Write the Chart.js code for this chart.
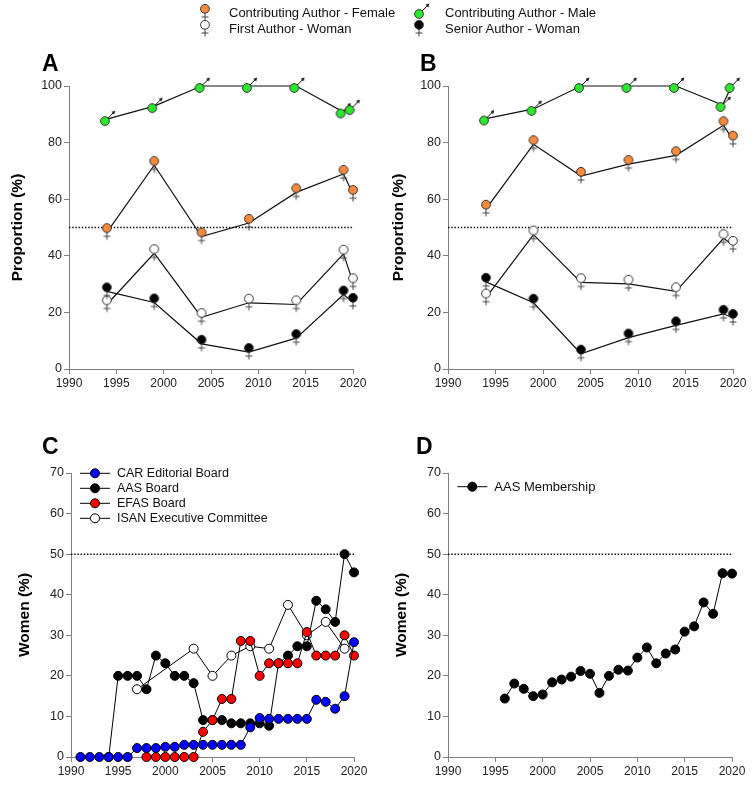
<!DOCTYPE html>
<html>
<head>
<meta charset="utf-8">
<script src="https://cdn.jsdelivr.net/npm/chart.js@4.4.1/dist/chart.umd.min.js"></script>
<style>
  body { margin: 0; background: #fff; }
  #wrap { position: relative; width: 755px; height: 788px; overflow: hidden;
          font-family: "Liberation Sans", Arial, sans-serif; color: #111; }
  #wrap canvas { position: absolute; }
  .key { position: absolute; font-size: 13px; line-height: 15px; white-space: nowrap; }
  .tag { position: absolute; font-size: 23px; line-height: 23px; font-weight: bold; color: #000; }
</style>
</head>
<body>
<div id="wrap">
  <canvas id="chartA" width="378" height="395" style="left:0;top:0"></canvas>
  <canvas id="chartB" width="377" height="395" style="left:378px;top:0"></canvas>
  <canvas id="chartC" width="378" height="388" style="left:0;top:400px"></canvas>
  <canvas id="chartD" width="377" height="388" style="left:378px;top:400px"></canvas>

  <div class="tag" style="left:42px;top:52px">A</div>
  <div class="tag" style="left:420px;top:52px">B</div>
  <div class="tag" style="left:42px;top:435px">C</div>
  <div class="tag" style="left:416px;top:435px">D</div>

  <div class="key" style="left:229px;top:5px">Contributing Author - Female</div>
  <div class="key" style="left:445px;top:5px">Contributing Author - Male</div>
  <div class="key" style="left:229px;top:21px">First Author - Woman</div>
  <div class="key" style="left:445px;top:21px">Senior Author - Woman</div>
</div>

<script>
// ---- data ----
// A and B: survey years (male marks sit a little left of the female ones)
const yearsFemale = [1994, 1999, 2004, 2009, 2014, 2019, 2020];
const yearsMale = [1994, 1999, 2004, 2009, 2014, 2018.9, 2019.85];

const aContribFemale = [48.3, 72.0, 46.8, 51.6, 62.4, 68.9, 61.8];
const aContribMale = [88.3, 92.9, 100, 100, 100, 91.0, 92.2];
const aFirstWoman = [22.8, 40.9, 18.3, 23.4, 22.8, 40.7, 30.6];
const aSeniorWoman = [27.4, 23.5, 8.9, 6.0, 10.9, 26.3, 23.7];

const bContribFemale = [56.6, 79.4, 68.2, 72.4, 75.5, 86.1, 81.0];
const bContribMale = [88.5, 91.9, 100, 100, 100, 93.3, 100];
const bFirstWoman = [25.2, 47.5, 30.6, 30.1, 27.4, 46.2, 43.8];
const bSeniorWoman = [30.8, 23.4, 5.4, 11.1, 15.4, 19.5, 18.0];

// C: boards
const carYears = [1991, 1992, 1993, 1994, 1995, 1996, 1997, 1998, 1999, 2000,
  2001, 2002, 2003, 2004, 2005, 2006, 2007, 2008, 2009, 2010,
  2011, 2012, 2013, 2014, 2015, 2016, 2017, 2018, 2019, 2020];
const carBoard = [0, 0, 0, 0, 0, 0, 2.2, 2.2, 2.2, 2.5,
  2.5, 3.0, 3.0, 3.0, 3.0, 3.0, 3.0, 3.0, 7.3, 9.6,
  9.4, 9.4, 9.4, 9.4, 9.4, 14.1, 13.6, 11.9, 15.0, 28.3];

const aasYears = [1994, 1995, 1996, 1997, 1998, 1999, 2000, 2001, 2002, 2003,
  2004, 2005, 2006, 2007, 2008, 2009, 2010, 2011, 2012, 2013,
  2014, 2015, 2016, 2017, 2018, 2019, 2020];
const aasBoard = [0, 20, 20, 20, 16.7, 25, 23.1, 20, 20, 18.2,
  9.1, 9.1, 9.1, 8.3, 8.3, 8.3, 8.3, 7.7, 23.1, 25,
  27.3, 27.3, 38.5, 36.4, 33.3, 50, 45.5];

const efasYears = [1998, 1999, 2000, 2001, 2002, 2003, 2004, 2005, 2006, 2007,
  2008, 2009, 2010, 2011, 2012, 2013, 2014, 2015, 2016, 2017,
  2018, 2019, 2020];
const efasBoard = [0, 0, 0, 0, 0, 0, 6.2, 9.1, 14.3, 14.3,
  28.6, 28.6, 20, 23.1, 23.1, 23.1, 23.1, 30.8, 25, 25,
  25, 30, 25];

const isanYears = [1997, 2003, 2005, 2007, 2009, 2011, 2013, 2015, 2017, 2019];
const isanCommittee = [16.7, 26.7, 20, 25, 27.3, 26.7, 37.5, 30, 33.3, 26.7];

// D: membership
const memberYears = [1996, 1997, 1998, 1999, 2000, 2001, 2002, 2003, 2004, 2005,
  2006, 2007, 2008, 2009, 2010, 2011, 2012, 2013, 2014, 2015,
  2016, 2017, 2018, 2019, 2020];
const aasMembership = [14.4, 18.1, 16.8, 15.0, 15.4, 18.4, 19.1, 19.8, 21.2, 20.5,
  15.8, 20.0, 21.5, 21.3, 24.5, 27.0, 23.1, 25.5, 26.5, 30.9,
  32.2, 38.1, 35.3, 45.3, 45.2];

// ---- styling ----
const axisGray = '#808080';
const orange = '#f78b3d';
const green = '#2ee82e';
Chart.defaults.font.family = '"Liberation Sans", Arial, sans-serif';
Chart.defaults.color = '#222';

// female mark: circle above the point, cross hanging below
function femaleSymbol(fill) {
  const c = document.createElement('canvas');
  c.width = 16; c.height = 30;
  const g = c.getContext('2d');
  g.strokeStyle = '#444'; g.lineWidth = 1;
  g.beginPath();
  g.moveTo(8, 15); g.lineTo(8, 22.5);
  g.moveTo(4.5, 19); g.lineTo(11.5, 19);
  g.stroke();
  g.beginPath(); g.arc(8, 10.8, 4.4, 0, Math.PI * 2);
  g.fillStyle = fill; g.fill();
  g.strokeStyle = '#333'; g.stroke();
  return c;
}

// male mark: circle a bit down-left of the point, arrow to the upper right
function maleSymbol(fill) {
  const c = document.createElement('canvas');
  c.width = 24; c.height = 24;
  const g = c.getContext('2d');
  g.strokeStyle = '#111'; g.lineWidth = 1;
  g.beginPath(); g.moveTo(13, 11); g.lineTo(18.8, 5.2); g.stroke();
  g.beginPath(); g.moveTo(20.4, 3.6); g.lineTo(19.2, 7.4); g.lineTo(16.6, 4.8); g.closePath();
  g.fillStyle = '#111'; g.fill();
  g.beginPath(); g.arc(10, 14, 4.4, 0, Math.PI * 2);
  g.fillStyle = fill; g.fill();
  g.strokeStyle = '#333'; g.stroke();
  return c;
}

const orangeSym = femaleSymbol(orange);
const whiteSym = femaleSymbol('#ffffff');
const blackSym = femaleSymbol('#000000');
const greenSym = maleSymbol(green);

// legend marks at the top
[[orangeSym, 197, -2], [whiteSym, 197, 14], [greenSym, 409, 0], [blackSym, 411, 14]].forEach(([sym, x, y]) => {
  const c = document.createElement('canvas');
  c.width = sym.width; c.height = sym.height;
  c.getContext('2d').drawImage(sym, 0, 0);
  c.style.left = x + 'px'; c.style.top = y + 'px';
  document.getElementById('wrap').appendChild(c);
});

const pts = (xs, ys) => xs.map((x, i) => ({ x: x, y: ys[i] }));

const halfLine = () => ({
  data: pts([1990, 2020], [50, 50]),
  borderColor: '#111', borderWidth: 1.5, borderDash: [1.5, 1.7],
  pointRadius: 0, clip: false
});

const authorSet = (xs, ys, sym) => ({
  data: pts(xs, ys), borderColor: '#111', borderWidth: 1.2,
  pointStyle: sym, pointRadius: 5, clip: false
});

const boardSet = (label, xs, ys, fill) => ({
  label: label, data: pts(xs, ys),
  borderColor: '#000', borderWidth: 1,
  pointBackgroundColor: fill, pointBorderColor: '#000', pointBorderWidth: 1,
  pointRadius: 4.5, clip: false
});

// legend drawn inside the plot (C and D)
const boxLegend = {
  id: 'boxLegend',
  afterDatasetsDraw(chart, args, opts) {
    if (!opts.items) return;
    const ctx = chart.ctx;
    ctx.save();
    opts.items.forEach((idx, row) => {
      const ds = chart.data.datasets[idx];
      const y = opts.y + row * opts.rowGap;
      ctx.strokeStyle = '#000'; ctx.lineWidth = 1;
      ctx.beginPath(); ctx.moveTo(opts.x, y); ctx.lineTo(opts.x + 30, y); ctx.stroke();
      ctx.beginPath(); ctx.arc(opts.x + 15, y, 4.5, 0, Math.PI * 2);
      ctx.fillStyle = ds.pointBackgroundColor; ctx.fill(); ctx.stroke();
      ctx.fillStyle = '#111';
      ctx.font = opts.fontSize + 'px "Liberation Sans", Arial, sans-serif';
      ctx.textBaseline = 'middle';
      ctx.fillText(ds.label, opts.x + 37, y + 0.5);
    });
    ctx.restore();
  }
};

const panels = [
  {
    id: 'chartA', pad: { left: 0, top: 86, right: 25, bottom: 0 }, yW: 69,
    yMax: 100, yStep: 20, yTitle: 'Proportion (%)', titlePad: 8.7,
    datasets: [
      authorSet(yearsMale, aContribMale, greenSym),
      authorSet(yearsFemale, aContribFemale, orangeSym),
      authorSet(yearsFemale, aSeniorWoman, blackSym),
      authorSet(yearsFemale, aFirstWoman, whiteSym),
      halfLine()
    ]
  },
  {
    id: 'chartB', pad: { left: 0, top: 86, right: 22, bottom: 0 }, yW: 70,
    yMax: 100, yStep: 20, yTitle: 'Proportion (%)', titlePad: 11,
    datasets: [
      authorSet(yearsMale, bContribMale, greenSym),
      authorSet(yearsFemale, bContribFemale, orangeSym),
      authorSet(yearsFemale, bSeniorWoman, blackSym),
      authorSet(yearsFemale, bFirstWoman, whiteSym),
      halfLine()
    ]
  },
  {
    id: 'chartC', pad: { left: 0, top: 73, right: 24, bottom: 5 }, yW: 71,
    yMax: 70, yStep: 10, yTitle: 'Women (%)', titlePad: 15.7,
    datasets: [
      boardSet('CAR Editorial Board', carYears, carBoard, '#0000ff'),
      boardSet('EFAS Board', efasYears, efasBoard, '#ff0000'),
      boardSet('AAS Board', aasYears, aasBoard, '#000000'),
      boardSet('ISAN Executive Committee', isanYears, isanCommittee, '#ffffff'),
      halfLine()
    ],
    legend: { x: 80, y: 73.3, rowGap: 15, items: [0, 2, 1, 3], fontSize: 12.5 }
  },
  {
    id: 'chartD', pad: { left: 0, top: 73, right: 23, bottom: 5 }, yW: 70,
    yMax: 70, yStep: 10, yTitle: 'Women (%)', titlePad: 14.4,
    datasets: [
      boardSet('AAS Membership', memberYears, aasMembership, '#000000'),
      halfLine()
    ],
    legend: { x: 79.3, y: 86.7, rowGap: 15, items: [0], fontSize: 13 }
  }
];

panels.forEach((p) => {
  new Chart(document.getElementById(p.id), {
    type: 'line',
    data: { datasets: p.datasets },
    plugins: p.legend ? [boxLegend] : [],
    options: {
      responsive: false,
      animation: false,
      events: [],
      layout: { padding: p.pad },
      elements: { line: { tension: 0 } },
      plugins: {
        legend: { display: false },
        tooltip: { enabled: false },
        boxLegend: p.legend || {}
      },
      scales: {
        x: {
          type: 'linear', min: 1990, max: 2020,
          border: { color: axisGray, width: 1 },
          grid: { drawOnChartArea: false, tickLength: 5, color: axisGray },
          ticks: { stepSize: 5, padding: 2, color: '#222', font: { size: 12 },
                   maxRotation: 0, callback: (v) => String(v) },
          afterFit: (s) => { s.height = 26; }
        },
        y: {
          min: 0, max: p.yMax,
          border: { color: axisGray, width: 1 },
          grid: { drawOnChartArea: false, tickLength: 5, color: axisGray },
          ticks: { stepSize: p.yStep, padding: 2, color: '#222', font: { size: 12.5 } },
          title: { display: true, text: p.yTitle, color: '#000',
                   font: { size: 15.5, weight: 'bold' },
                   padding: { top: p.titlePad, bottom: 0 } },
          afterFit: (s) => { s.width = p.yW; }
        }
      }
    }
  });
});
</script>
</body>
</html>
